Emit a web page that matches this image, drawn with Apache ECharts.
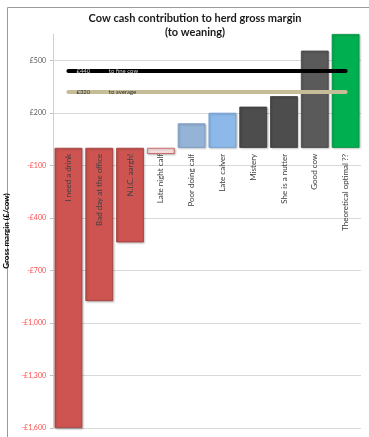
<!DOCTYPE html>
<html><head><meta charset="utf-8">
<script src="https://cdn.jsdelivr.net/npm/echarts@6/dist/echarts.min.js"></script>
<style>html,body{margin:0;padding:0;background:#fff}#c{width:369px;height:437px}</style>
</head><body><div id="c"></div>
<script>
const categories = ['I need a drink','Bad day at the office','N.I.C. aargh!','Late night calf','Poor doing calf','Late calver','Mistery','She is a nutter','Good cow','Theoretical optimal ??'];
const margins = [-1600, -875, -540, -35, 140, 200, 235, 295, 555, 650];
const barColors = ['#CD5451','#CD5451','#CD5451','#F4DEDD','#95B3D7','#8DB9EA','#4D4D4D','#4D4D4D','#5A5A5A','#00B050'];
const barBorders = ['#9E3B38','#9E3B38','#9E3B38','#C0504D','#7A9AC2','#6F9ED4','#3A3A3A','#3A3A3A','#444444','#00903F'];
const refValues = [440, 320];
const refLabels = ['£440', '£320'];
const refTexts = ['to fine cow', 'to average'];
const refColors = ['#000000', '#C4BD97'];
const yTicks = [-1600, -1300, -1000, -700, -400, -100, 200, 500];
const yMin = -1600, yMax = 650;

function money(v){
  const a = Math.abs(v).toLocaleString('en-GB');
  return (v < 0 ? '-£' : '£') + a;
}

const W = 369, H = 437;
const gridTop = 34, gridBottom = 9;
const plotH = H - gridTop - gridBottom;
const zeroOffset = -((0 - yMin) / (yMax - yMin)) * plotH;

const chart = echarts.init(document.getElementById('c'));
chart.setOption({
  animation: false,
  textStyle: { fontFamily: 'Lato, "Open Sans", sans-serif' },
  title: {
    text: 'Cow cash contribution to herd gross margin\n(to weaning)',
    left: 190, top: 6, textAlign: 'center',
    textStyle: { fontSize: 11, fontWeight: 'bold', color: '#1a1a1a', lineHeight: 14, fontFamily: 'Lato, sans-serif' }
  },
  graphic: [{
    type: 'rect', shape: { x: 7.5, y: 7.5, width: 420, height: 500 },
    style: { fill: 'none', stroke: '#9a9a9a', lineWidth: 1 }, silent: true
  }],
  grid: { left: 53, right: 8, top: gridTop, bottom: gridBottom, outerBoundsMode: 'none', containLabel: false },
  xAxis: {
    type: 'category', data: categories,
    offset: zeroOffset, z: 10,
    axisLine: { show: false, onZero: false },
    axisTick: { show: false },
    axisLabel: { rotate: 90, margin: 6, fontSize: 8, color: '#404040', interval: 0 }
  },
  yAxis: {
    type: 'value', min: yMin, max: yMax,
    axisLabel: {
      customValues: yTicks,
      fontSize: 7, margin: 7,
      formatter: v => money(v),
      color: v => (v < 0 ? '#FF4D4D' : '#595959')
    },
    axisTick: { show: true, customValues: yTicks, length: 3, lineStyle: { color: '#bfbfbf' } },
    axisLine: { show: true, lineStyle: { color: '#d0d0d0', width: 1 } },
    splitLine: { show: true, lineStyle: { color: '#d9d9d9', width: 1 } },
    name: 'Gross margin (£/cow)', nameLocation: 'middle', nameGap: 37,
    nameTextStyle: { fontSize: 8, fontWeight: 'bold', color: '#000' }
  },
  series: [{
    type: 'bar', barCategoryGap: '10%',
    data: margins.map((v, i) => ({
      value: v,
      itemStyle: { color: barColors[i], borderColor: barBorders[i], borderWidth: 0.8,
        shadowColor: 'rgba(0,0,0,0.25)', shadowBlur: 2, shadowOffsetX: 1, shadowOffsetY: 1 }
    })),
    markLine: {
      silent: true, symbol: 'none',
      data: refValues.map((v, i) => [
        { coord: [0, v], lineStyle: { color: refColors[i], width: 4, cap: 'round', type: 'solid' },
          label: { show: true, position: 'insideStart', distance: [8, 0],
            formatter: refLabels[i] + '            ' + refTexts[i],
            fontSize: 6, color: i === 0 ? '#d0d0d0' : '#333' } },
        { coord: [9, v] }
      ])
    }
  }]
});
</script></body></html>
